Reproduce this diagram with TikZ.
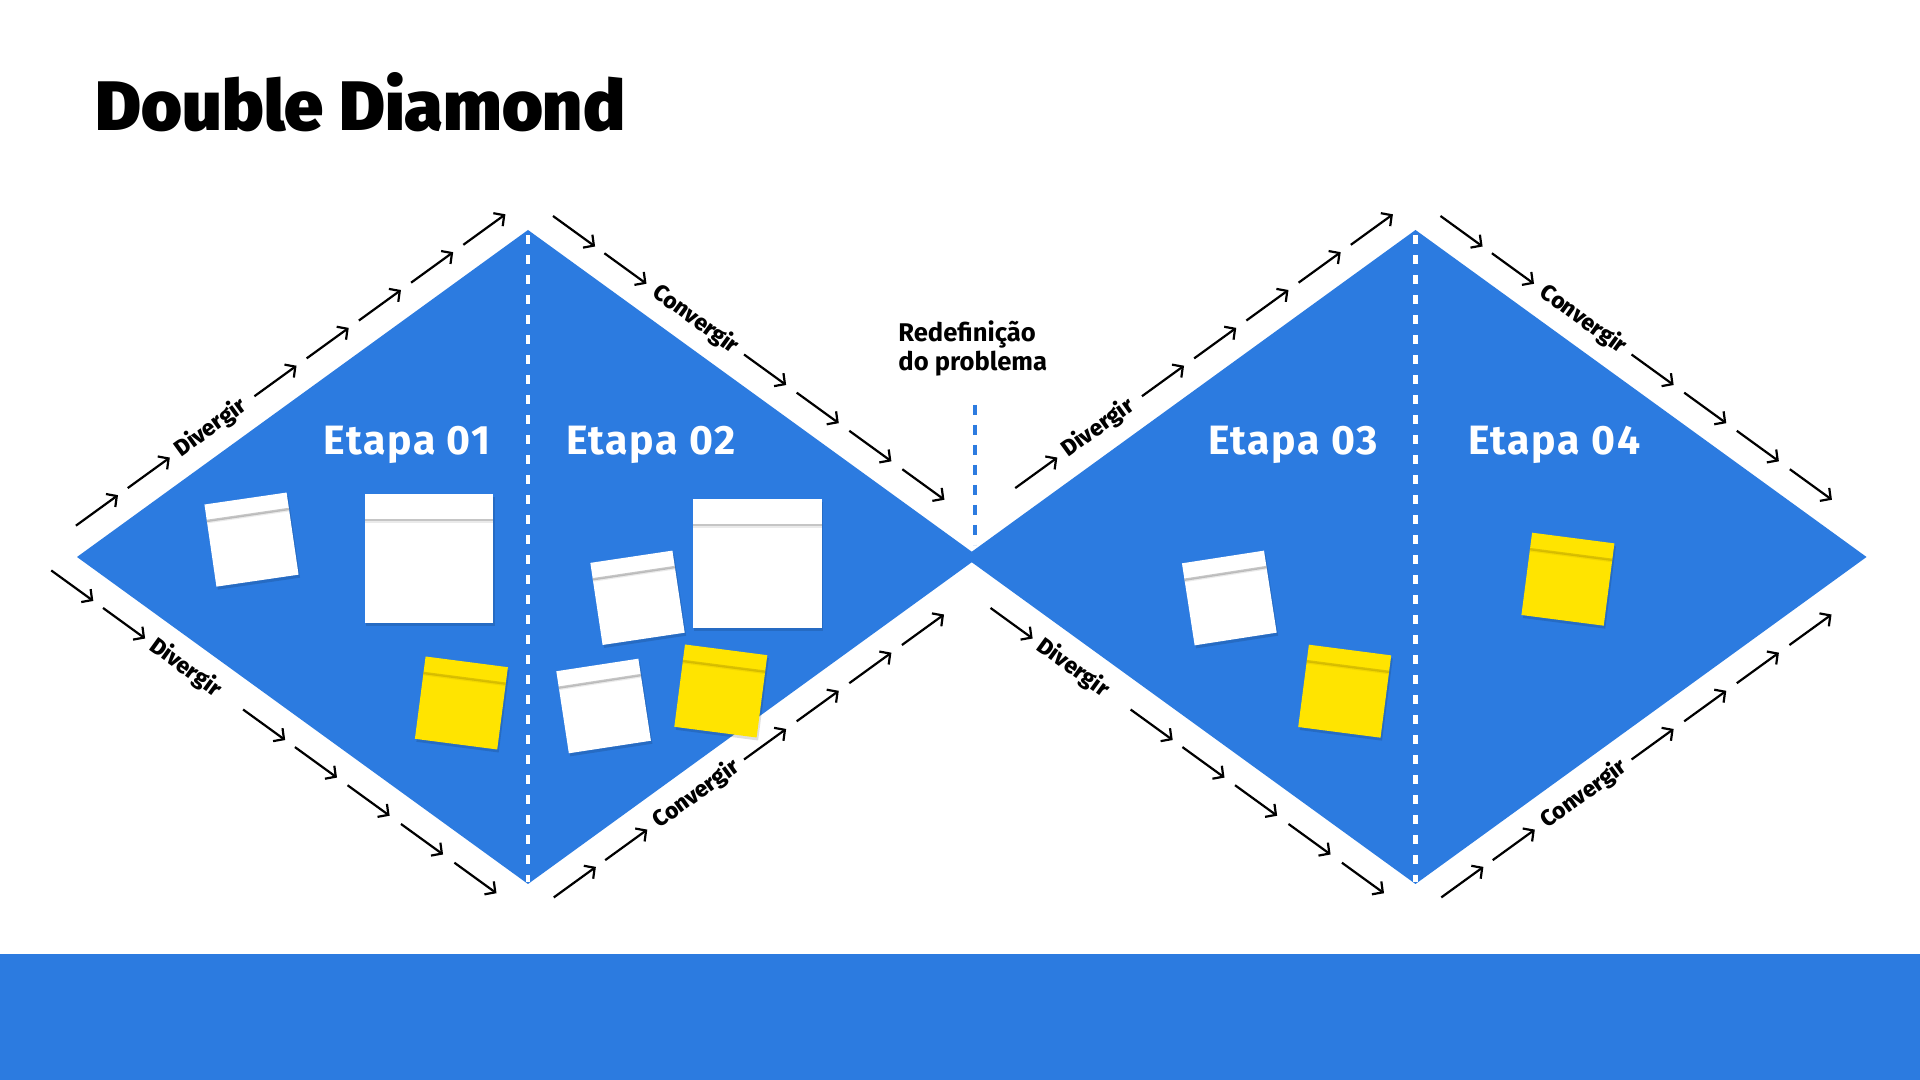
\documentclass[tikz,border=0pt]{standalone}
\usepackage{fontspec}
\setmainfont{Fira Sans}
\newfontfamily\titlefont{Fira Sans Black}
\newfontfamily\labfont{Fira Sans Bold}
\newfontfamily\edgefont{Fira Sans ExtraBold}
\newfontfamily\stagefont{Fira Sans Bold}[LetterSpace=4]
\usetikzlibrary{arrows.meta,calc}
\definecolor{ddblue}{HTML}{2C7BE0}
\definecolor{ddyellow}{HTML}{FFE400}
\definecolor{ddstripy}{HTML}{B89F00}
\tikzset{
  flow/.style={black, line width=1.1pt, -{Straight Barb[length=3.8pt,width=8pt]}},
  edgelabel/.style={font=\edgefont\fontsize{11.3}{13}\selectfont, inner sep=0pt, transform shape},
  stagetext/.style={text=white, font=\stagefont\fontsize{20.5}{24}\selectfont, inner sep=0pt},
  notebox/.style={draw=none, inner sep=0pt, outer sep=0pt, shape=rectangle},
  noteshadow/.style={fill=black, opacity=0.13, draw=none, inner sep=0pt, outer sep=0pt, shape=rectangle},
  splitline/.style={white, line width=2.2pt, dash pattern=on 4.75pt off 5.25pt},
  redefline/.style={ddblue, line width=2.4pt, dash pattern=on 5pt off 5pt},
  redeftext/.style={anchor=base west, inner sep=0pt, font=\labfont\fontsize{12.8}{15}\selectfont},
}
\newcommand\ddrow[7]{%
  \begin{scope}[shift={#1}, rotate=#2]
    \foreach \s in {#4} {\draw[flow] (\s,#3) -- ({\s+52},#3);}
    \node[edgelabel] (#6) at (#5,#3) {#7};
  \end{scope}}
\newcommand\stickynote[7]{%
  \node[noteshadow, minimum size=#5*0.5pt, rotate=#4] (#1s) at ({#2+1.5},{#3-3}) {};
  \node[notebox, fill=#6, minimum size=#5*0.5pt, rotate=#4] (#1) at (#2,#3) {};
  \draw[#7, line width=1.2pt, opacity=0.5] ($(#1.north west)!0.2!(#1.south west)$) -- ($(#1.north east)!0.2!(#1.south east)$);
  \draw[#7, line width=1.2pt, opacity=0.18] ($(#1.north west)!0.215!(#1.south west)$) -- ($(#1.north east)!0.215!(#1.south east)$);
}
\begin{document}
\begin{tikzpicture}[x=0.5pt, y=0.5pt]
\useasboundingbox (0,0) rectangle (1920,1080);
\fill[white] (0,0) rectangle (1920,1080);
% bottom band
\fill[ddblue] (0,0) rectangle (1920,126);
% title
\node[anchor=base west, inner sep=0pt, font=\titlefont\fontsize{35}{40}\selectfont] (title) at (95.5,949) {Double Diamond};
% diamonds
\coordinate (d1l) at (77,523);   \coordinate (d1t) at (528,850);
\coordinate (d1r) at (979,523);  \coordinate (d1b) at (528,196);
\coordinate (d2l) at (964.5,523);\coordinate (d2t) at (1415.5,850);
\coordinate (d2r) at (1866.5,523);\coordinate (d2b) at (1415.5,196);
\fill[ddblue] (d1l) -- (d1t) -- (d1r) -- (d1b) -- cycle;
\fill[ddblue] (d2l) -- (d2t) -- (d2r) -- (d2b) -- cycle;
% split lines
\draw[splitline] (528,845) -- (528,198);
\draw[splitline] (1415.5,845) -- (1415.5,198);
% redefinition marker
\draw[redefline] (975,675) -- (975,535);
\node[redeftext] (redef1) at (898,738) {Redefinição};
\node[redeftext] (redef2) at (898,709.5) {do problema};
% stage titles
\node[stagetext, anchor=base east] (e1) at (491,625) {Etapa 01};
\node[stagetext, anchor=base west] (e2) at (566,625) {Etapa 02};
\node[stagetext, anchor=base east] (e3) at (1378,625) {Etapa 03};
\node[stagetext, anchor=base west] (e4) at (1468,625) {Etapa 04};
% sticky notes
\stickynote{nA}{251.5}{540.4}{8.3}{83}{white}{black!45}
\stickynote{nB}{429}{521.5}{0}{128.5}{white}{black!45}
\stickynote{nC}{461.4}{377}{-7.4}{83}{ddyellow}{ddstripy}
\stickynote{nD}{637.5}{482.2}{8.5}{83}{white}{black!45}
\stickynote{nE}{757}{516}{0}{129}{white}{black!45}
\stickynote{nF}{603.6}{374}{8.7}{83}{white}{black!45}
\stickynote{nG}{720.8}{389}{-7.4}{83}{ddyellow}{ddstripy}
\stickynote{nH}{1229.3}{482}{8.8}{83}{white}{black!45}
\stickynote{nI}{1344.7}{388.8}{-7.4}{83}{ddyellow}{ddstripy}
\stickynote{nJ}{1567.9}{500.8}{-7.4}{83}{ddyellow}{ddstripy}
% arrow rows, diamond 1
\ddrow{(77,523)}{35.94}{26}{17.5,81.5,238,302.5,367,431.5,496}{184}{l1}{Divergir}
\ddrow{(77,523)}{-35.94}{-26}{-13,51,224,288,353,419,485}{153}{l2}{Divergir}
\ddrow{(528,850)}{-35.94}{26}{12,75.5,248,313,378,443.5}{188.5}{l3}{Convergir}
\ddrow{(528,196)}{35.94}{-26}{13,76.5,248,313,378,443}{189}{l4}{Convergir}
% arrow rows, diamond 2
\ddrow{(964.5,523)}{35.94}{26}{81.5,238,302.5,367,431.5,496}{184}{l5}{Divergir}
\ddrow{(964.5,523)}{-35.94}{-26}{51,224,288,353,419,485}{153}{l6}{Divergir}
\ddrow{(1415.5,850)}{-35.94}{26}{12,75.5,248,313,378,443.5}{188.5}{l7}{Convergir}
\ddrow{(1415.5,196)}{35.94}{-26}{13,76.5,248,313,378,443}{189}{l8}{Convergir}
\end{tikzpicture}
\end{document}
